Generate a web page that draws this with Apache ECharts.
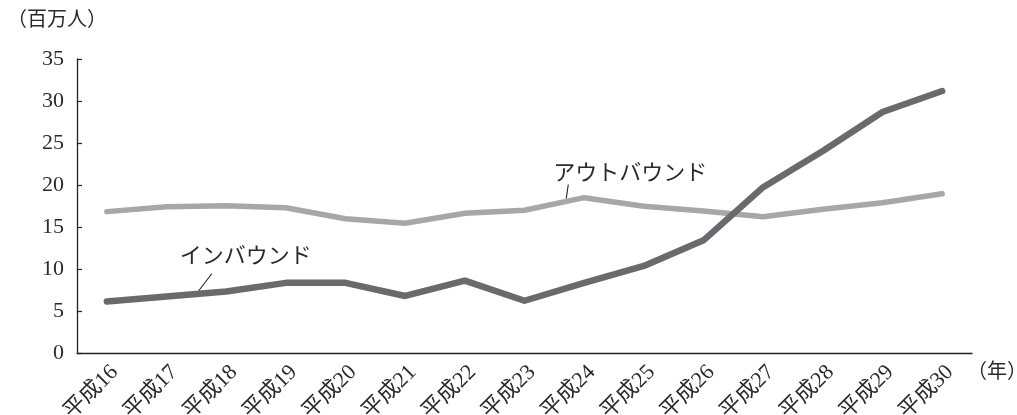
<!DOCTYPE html>
<html>
<head>
<meta charset="utf-8">
<script src="https://cdn.jsdelivr.net/npm/echarts@6/dist/echarts.min.js"></script>
<style>
  html, body { margin: 0; padding: 0; background: #fff; }
  #chart { width: 1017px; height: 415px; }
</style>
</head>
<body>
<div id="chart"></div>
<script>
// 訪日外国人旅行者数（インバウンド）と出国日本人数（アウトバウンド）の推移
const years = ['平成16', '平成17', '平成18', '平成19', '平成20', '平成21', '平成22', '平成23',
               '平成24', '平成25', '平成26', '平成27', '平成28', '平成29', '平成30'];
const inbound  = [6.14, 6.73, 7.33, 8.35, 8.35, 6.79, 8.61, 6.22, 8.36, 10.36, 13.41, 19.74, 24.04, 28.69, 31.19];
const outbound = [16.83, 17.40, 17.53, 17.29, 15.99, 15.45, 16.64, 16.99, 18.49, 17.47, 16.90, 16.21, 17.11, 17.89, 18.95];
const yTicks = [0, 5, 10, 15, 20, 25, 30, 35];

const FONT = '"Liberation Serif", "DejaVu Serif", "Noto Sans CJK JP", serif';
const TEXT = '#2a2a2a';
const DARK = '#6a6a6e';
const LIGHT = '#a7a7ab';

const chart = echarts.init(document.getElementById('chart'), null, { renderer: 'canvas' });

chart.setOption({
  animation: false,
  backgroundColor: '#fff',
  textStyle: { fontFamily: FONT, color: TEXT },
  grid: { left: 77, right: 45, top: 59, bottom: 62, containLabel: false, outerBoundsMode: 'none' },
  xAxis: {
    type: 'category',
    data: years,
    boundaryGap: true,
    axisLine: { lineStyle: { color: '#222', width: 1.3 } },
    axisTick: { inside: true, length: 6, lineStyle: { color: '#222', width: 1.2 } },
    axisLabel: { rotate: 45, margin: 8, fontSize: 22, verticalAlign: 'top', color: TEXT, fontFamily: FONT },
    splitLine: { show: false }
  },
  yAxis: {
    type: 'value',
    min: yTicks[0],
    max: yTicks[yTicks.length - 1],
    interval: 5,
    axisLine: { show: true, lineStyle: { color: '#222', width: 1.3 } },
    axisTick: { show: true, inside: true, length: 5, lineStyle: { color: '#222', width: 1.2 } },
    axisLabel: { margin: 13, fontSize: 22, color: TEXT, fontFamily: FONT },
    splitLine: { show: false }
  },
  series: [
    {
      name: 'アウトバウンド',
      type: 'line',
      data: outbound,
      symbol: 'none',
      z: 2,
      lineStyle: { color: LIGHT, width: 5.5, cap: 'round', join: 'round' }
    },
    {
      name: 'インバウンド',
      type: 'line',
      data: inbound,
      symbol: 'none',
      z: 3,
      lineStyle: { color: DARK, width: 6.5, cap: 'round', join: 'round' }
    }
  ]
});

// 系列名の注記と引き出し線：データ線上の点から位置を求める
function pointOn(seriesData, i, t) {
  const a = chart.convertToPixel({ gridIndex: 0 }, [i, seriesData[i]]);
  const b = chart.convertToPixel({ gridIndex: 0 }, [i + 1, seriesData[i + 1]]);
  return [a[0] + (b[0] - a[0]) * t, a[1] + (b[1] - a[1]) * t];
}

const inFoot = pointOn(inbound, 1, 0.54);
const outFoot = pointOn(outbound, 7, 0.7);

const leader = (foot, dx, dy) => ({
  type: 'line',
  shape: { x1: foot[0], y1: foot[1] - 3, x2: foot[0] + dx, y2: foot[1] + dy },
  style: { stroke: '#222', lineWidth: 1.1 },
  z: 10
});

const note = (text, x, y) => ({
  type: 'text',
  x: x, y: y,
  style: {
    text: text, fill: TEXT, fontSize: 22, fontFamily: FONT,
    align: 'center', verticalAlign: 'middle'
  },
  z: 10
});

chart.setOption({
  graphic: [
    { type: 'text', left: 7, top: 11,
      style: { text: '（百万人）', fill: TEXT, fontSize: 20, fontFamily: FONT } },
    { type: 'text', left: 967, top: 363,
      style: { text: '（年）', fill: TEXT, fontSize: 20, fontFamily: FONT } },
    leader(inFoot, 13, -20),
    note('インバウンド', inFoot[0] + 47, inFoot[1] - 37),
    leader(outFoot, 2, -17),
    note('アウトバウンド', outFoot[0] + 64, outFoot[1] - 27)
  ]
});
</script>
</body>
</html>
